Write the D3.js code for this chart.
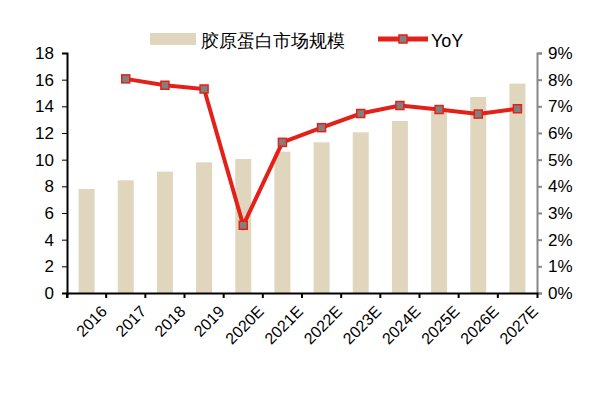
<!DOCTYPE html><html><head><meta charset="utf-8"><script src="https://cdn.jsdelivr.net/npm/d3@7"></script>
<style>body{margin:0;background:#fff}text{font-family:"Liberation Sans",Arial,sans-serif}</style></head><body><svg id="c" width="600" height="400"></svg>
<script>
const categories=["2016","2017","2018","2019","2020E","2021E","2022E","2023E","2024E","2025E","2026E","2027E"];
const market=[7.8,8.45,9.1,9.8,10.05,10.6,11.3,12.05,12.9,13.6,14.7,15.7];
const yoy=[null,8.03,7.79,7.65,2.54,5.65,6.2,6.73,7.03,6.88,6.71,6.91];
const leftTicks=[0,2,4,6,8,10,12,14,16,18];
const rightTicks=[0,1,2,3,4,5,6,7,8,9];
const svg=d3.select("#c");
const L=67,R=537,T=53,B=293;
const x=d3.scaleBand().domain(categories).range([L,R]);
const y=d3.scaleLinear().domain([0,18]).range([B,T]);
const y2=d3.scaleLinear().domain([0,9]).range([B,T]);
svg.selectAll(".bar").data(market).join("rect").attr("x",(d,i)=>x(categories[i])+x.bandwidth()/2-8).attr("width",16)
 .attr("y",d=>y(d)).attr("height",d=>B-y(d)).attr("fill","#e0d6bd");
const gl=svg.append("g").attr("transform",`translate(${L},0)`).call(d3.axisLeft(y).tickValues(leftTicks).tickSize(5).tickPadding(8));
gl.select(".domain").attr("stroke","#000").attr("stroke-width",2);
gl.selectAll("text").attr("font-size",17).attr("fill","#000");
const gr=svg.append("g").attr("transform",`translate(${R},0)`).call(d3.axisRight(y2).tickValues(rightTicks).tickSize(5).tickPadding(6).tickFormat(d=>d+"%"));
gr.selectAll(".domain,line").attr("stroke","#888").attr("stroke-width",2);
gr.selectAll("text").attr("font-size",17).attr("fill","#000");
const gb=svg.append("g").attr("transform",`translate(0,${B})`).call(d3.axisBottom(x).tickSizeOuter(0).tickSize(5));
gb.select(".domain").attr("stroke","#000").attr("stroke-width",2);
gb.selectAll(".tick line").attr("transform",`translate(${-x.bandwidth()/2},0)`).attr("stroke-width",2);
gb.selectAll("text").attr("font-size",16).attr("fill","#000").attr("text-anchor","end")
 .attr("transform","translate(8,6) rotate(-45)").attr("dy","0.7em");
const pts=yoy.map((v,i)=>({v,c:categories[i]})).filter(d=>d.v!=null);
const line=d3.line().x(d=>x(d.c)+x.bandwidth()/2).y(d=>y2(d.v));
svg.append("path").datum(pts).attr("d",line).attr("fill","none").attr("stroke","#e32119").attr("stroke-width",4);
svg.selectAll(".m").data(pts).join("rect").attr("x",d=>x(d.c)+x.bandwidth()/2-4).attr("y",d=>y2(d.v)-4).attr("width",8).attr("height",8)
 .attr("fill","#808080").attr("stroke","#e32119").attr("stroke-width",1.5);
const lg=svg.append("g");
lg.append("rect").attr("x",150).attr("y",33).attr("width",46).attr("height",12).attr("fill","#e0d6bd");
lg.append("text").attr("x",201).attr("y",47).attr("font-size",18).attr("font-family","Noto Sans CJK SC").text("胶原蛋白市场规模");
lg.append("line").attr("x1",378).attr("x2",428).attr("y1",39).attr("y2",39).attr("stroke","#e32119").attr("stroke-width",5);
lg.append("rect").attr("x",399).attr("y",35).attr("width",8).attr("height",8).attr("fill","#808080").attr("stroke","#e32119").attr("stroke-width",1.5);
lg.append("text").attr("x",431).attr("y",47).attr("font-size",18).text("YoY");
</script></body></html>
